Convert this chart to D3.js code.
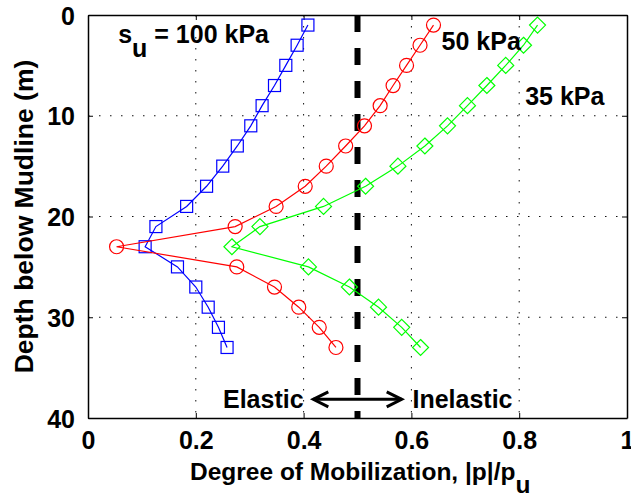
<!DOCTYPE html>
<html>
<head>
<meta charset="utf-8">
<script src="https://cdn.jsdelivr.net/npm/d3@7"></script>
<style>
  html, body { margin: 0; padding: 0; background: #fff; }
  #plot { width: 631px; height: 497px; }
  text { font-family: "Liberation Sans", Arial, Helvetica, sans-serif; font-weight: bold; fill: #000; }
</style>
</head>
<body>
<div id="plot"></div>
<script>
// depth of each data point (m)
const depths = [1, 3, 5, 7, 9, 11, 13, 15, 17, 19, 21, 23, 25, 27, 29, 31, 33];

// degree of mobilization |p|/pu for each undrained strength
const su100 = [0.408, 0.388, 0.367, 0.346, 0.323, 0.302, 0.277, 0.250, 0.220, 0.183,
               0.126, 0.106, 0.166, 0.200, 0.223, 0.242, 0.258];
const su50  = [0.641, 0.616, 0.591, 0.566, 0.542, 0.513, 0.478, 0.442, 0.403, 0.349,
               0.273, 0.053, 0.276, 0.346, 0.391, 0.429, 0.460];
const su35  = [0.834, 0.808, 0.775, 0.740, 0.704, 0.667, 0.625, 0.575, 0.515, 0.437,
               0.319, 0.267, 0.409, 0.485, 0.539, 0.582, 0.617];

const xTicks = [0, 0.2, 0.4, 0.6, 0.8, 1];
const yTicks = [0, 10, 20, 30, 40];
const xTickLabels = ['0', '0.2', '0.4', '0.6', '0.8', '1'];

const series = [
    {name: 'su100', values: su100, color: '#0000ff', marker: 'square'},
    {name: 'su50',  values: su50,  color: '#ff0000', marker: 'circle'},
    {name: 'su35',  values: su35,  color: '#00ff00', marker: 'diamond'}
];

function draw() {
    const container = document.getElementById('plot');
    container.innerHTML = '';
    const width = 631, height = 497;
    const margin = {top: 15, right: 4, bottom: 79, left: 88};
    const w = width - margin.left - margin.right;
    const h = height - margin.top - margin.bottom;

    const svg = d3.select(container).append('svg')
        .attr('width', width)
        .attr('height', height);

    const g = svg.append('g')
        .attr('transform', `translate(${margin.left},${margin.top})`);

    const x = d3.scaleLinear().domain([0, 1]).range([0, w]);
    const y = d3.scaleLinear().domain([0, 40]).range([0, h]);

    // dotted grid
    g.append('g').selectAll('line')
        .data(xTicks.slice(1, -1))
        .join('line')
        .attr('x1', d => x(d)).attr('x2', d => x(d))
        .attr('y1', 0).attr('y2', h)
        .attr('stroke', '#111').attr('stroke-width', 1)
        .attr('stroke-dasharray', '1.5,9.5');
    g.append('g').selectAll('line')
        .data(yTicks.slice(1, -1))
        .join('line')
        .attr('x1', 0).attr('x2', w)
        .attr('y1', d => y(d)).attr('y2', d => y(d))
        .attr('stroke', '#111').attr('stroke-width', 1)
        .attr('stroke-dasharray', '1.5,9.5');

    // axes, ticks pointing inward (box style)
    const fontSize = '25px';
    const bottomAxis = g.append('g')
        .attr('transform', `translate(0,${h})`)
        .call(d3.axisBottom(x).tickValues(xTicks).tickFormat((d, i) => xTickLabels[i])
            .tickSizeInner(-5).tickSizeOuter(0).tickPadding(14));
    const leftAxis = g.append('g')
        .call(d3.axisLeft(y).tickValues(yTicks).tickSizeInner(-5).tickSizeOuter(0).tickPadding(13));
    const topAxis = g.append('g')
        .call(d3.axisTop(x).tickValues(xTicks).tickSizeInner(-5).tickSizeOuter(0).tickFormat(''));
    const rightAxis = g.append('g')
        .attr('transform', `translate(${w},0)`)
        .call(d3.axisRight(y).tickValues(yTicks).tickSizeInner(-5).tickSizeOuter(0).tickFormat(''));

    [bottomAxis, leftAxis, topAxis, rightAxis].forEach(a => {
        a.select('.domain').attr('stroke', '#000').attr('stroke-width', 1.5);
        a.selectAll('.tick line').attr('stroke', '#000');
        a.selectAll('.tick text')
            .style('font-size', fontSize)
            .style('font-family', '"Liberation Sans", Arial, sans-serif')
            .style('font-weight', 'bold')
            .attr('fill', '#000');
    });
    bottomAxis.selectAll('.tick text').attr('dy', '0.68em');
    leftAxis.selectAll('.tick text').attr('dy', '0.36em');

    // elastic / inelastic boundary
    g.append('line')
        .attr('x1', x(0.5)).attr('x2', x(0.5))
        .attr('y1', 0).attr('y2', h)
        .attr('stroke', '#000').attr('stroke-width', 6)
        .attr('stroke-dasharray', '17,16');

    // series lines and markers
    const line = d3.line()
        .x(d => x(d.v))
        .y(d => y(d.d));

    series.forEach(s => {
        const pts = depths.map((d, i) => ({d: d, v: s.values[i]}));
        g.append('path')
            .datum(pts)
            .attr('d', line)
            .attr('fill', 'none')
            .attr('stroke', s.color)
            .attr('stroke-width', 1.2);

        const mg = g.append('g');
        if (s.marker === 'square') {
            mg.selectAll('rect').data(pts).join('rect')
                .attr('x', d => x(d.v) - 6).attr('y', d => y(d.d) - 6)
                .attr('width', 12).attr('height', 12)
                .attr('fill', 'none').attr('stroke', s.color).attr('stroke-width', 1.2);
        } else if (s.marker === 'circle') {
            mg.selectAll('circle').data(pts).join('circle')
                .attr('cx', d => x(d.v)).attr('cy', d => y(d.d))
                .attr('r', 7)
                .attr('fill', 'none').attr('stroke', s.color).attr('stroke-width', 1.2);
        } else {
            mg.selectAll('path').data(pts).join('path')
                .attr('d', d => {
                    const cx = x(d.v), cy = y(d.d), r = 8;
                    return `M${cx},${cy - r}L${cx + r},${cy}L${cx},${cy + r}L${cx - r},${cy}Z`;
                })
                .attr('fill', 'none').attr('stroke', s.color).attr('stroke-width', 1.2);
        }
    });

    // annotations
    const su = g.append('text')
        .attr('x', x(0.056)).attr('y', y(2.76))
        .style('font-size', fontSize);
    su.append('tspan').text('s');
    su.append('tspan').attr('dy', 14).text('u');
    su.append('tspan').attr('dy', -14).text(' = 100 kPa');

    g.append('text')
        .attr('x', x(0.656)).attr('y', y(3.43))
        .style('font-size', fontSize)
        .text('50 kPa');
    g.append('text')
        .attr('x', x(0.811)).attr('y', y(8.9))
        .style('font-size', fontSize)
        .text('35 kPa');

    g.append('text')
        .attr('x', x(0.4)).attr('y', y(39.05))
        .attr('text-anchor', 'end')
        .style('font-size', fontSize)
        .text('Elastic');
    g.append('text')
        .attr('x', x(0.602)).attr('y', y(39.05))
        .style('font-size', fontSize)
        .text('Inelastic');

    // double-headed arrow
    const ay = y(38.15), ax1 = x(0.418), ax2 = x(0.582);
    g.append('line')
        .attr('x1', ax1).attr('x2', ax2).attr('y1', ay).attr('y2', ay)
        .attr('stroke', '#000').attr('stroke-width', 3);
    g.append('path')
        .attr('d', `M${ax1 + 15},${ay - 7.5}L${ax1},${ay}L${ax1 + 15},${ay + 7.5}` +
                   `M${ax2 - 15},${ay - 7.5}L${ax2},${ay}L${ax2 - 15},${ay + 7.5}`)
        .attr('fill', 'none').attr('stroke', '#000').attr('stroke-width', 3);

    // axis titles
    const xl = svg.append('text')
        .attr('x', 190).attr('y', 480)
        .style('font-size', '24.5px');
    xl.append('tspan').text('Degree of Mobilization, |p|/p');
    xl.append('tspan').attr('dy', 13).text('u');

    svg.append('text')
        .attr('transform', `translate(33,${margin.top + h / 2}) rotate(-90)`)
        .attr('text-anchor', 'middle')
        .style('font-size', '26.5px')
        .text('Depth below Mudline (m)');
}

draw();
</script>
</body>
</html>
